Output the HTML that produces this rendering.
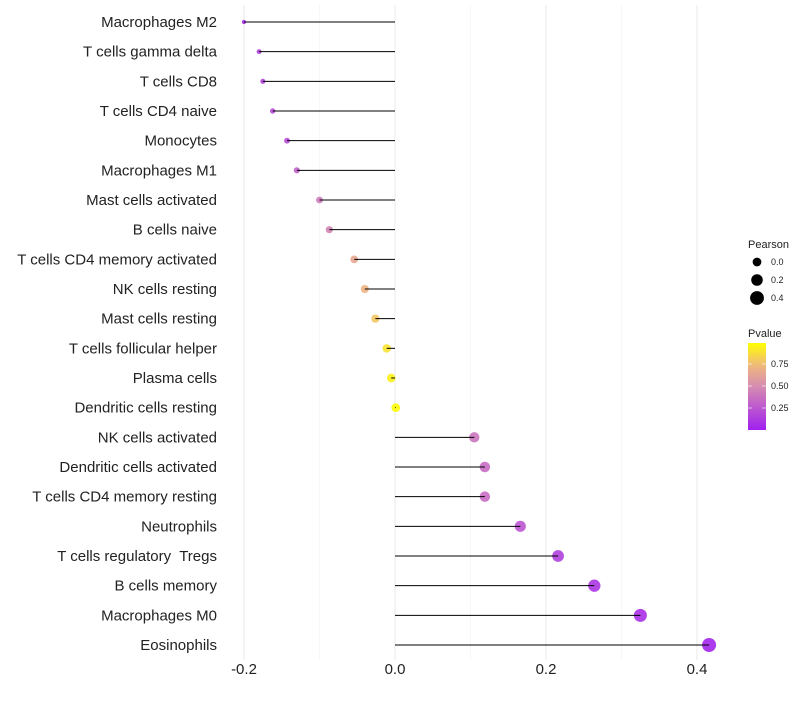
<!DOCTYPE html>
<html><head><meta charset="utf-8"><style>
body{margin:0;background:#fff;font-family:"Liberation Sans",sans-serif}
text{white-space:pre}
</style></head><body>
<svg id="chart" width="800" height="700" xmlns="http://www.w3.org/2000/svg"></svg>
<script>
const categories=["Macrophages M2","T cells gamma delta","T cells CD8","T cells CD4 naive","Monocytes","Macrophages M1","Mast cells activated","B cells naive","T cells CD4 memory activated","NK cells resting","Mast cells resting","T cells follicular helper","Plasma cells","Dendritic cells resting","NK cells activated","Dendritic cells activated","T cells CD4 memory resting","Neutrophils","T cells regulatory  Tregs","B cells memory","Macrophages M0","Eosinophils"];
const pearson=[-0.2,-0.18,-0.175,-0.162,-0.143,-0.13,-0.1,-0.087,-0.054,-0.04,-0.026,-0.011,-0.005,0.001,0.105,0.119,0.119,0.166,0.216,0.264,0.325,0.416];
const pvalues=[0.05,0.15,0.15,0.2,0.2,0.3,0.42,0.47,0.65,0.72,0.8,0.9,0.95,0.99,0.4,0.35,0.35,0.25,0.15,0.1,0.07,0.03];
const xTicks=[-0.2,0,0.2,0.4];
const xTickLabels=["-0.2","0.0","0.2","0.4"];
const xMinor=[-0.1,0.1,0.3];
const sizeLegend=[0.0,0.2,0.4];
const colorLegend=[0.25,0.5,0.75];

const svg=document.getElementById('chart');
const NS='http://www.w3.org/2000/svg';
function el(t,a){const e=document.createElementNS(NS,t);for(const k in a)e.setAttribute(k,a[k]);svg.appendChild(e);return e;}
const x=v=>395+v*755;
const y=i=>22+i*29.667;
const r=v=>Math.sqrt(Math.max(2.3,19+72*v));
function lerp(a,b,t){return a.map((c,i)=>Math.round(c+(b[i]-c)*t));}
const stops=[[0,[160,32,240]],[0.5,[214,140,176]],[0.75,[240,185,125]],[1,[255,255,0]]];
function col(p){for(let i=0;i<stops.length-1;i++){if(p<=stops[i+1][0]){const t=(p-stops[i][0])/(stops[i+1][0]-stops[i][0]);return 'rgb('+lerp(stops[i][1],stops[i+1][1],t).join(',')+')';}}return 'rgb(255,255,0)';}

xMinor.forEach(v=>{const g=el('line',{x1:x(v),x2:x(v),y1:5,y2:660,stroke:'#f2f2f2','stroke-width':0.6});

});
xTicks.forEach((v,i)=>{const g=el('line',{x1:x(v),x2:x(v),y1:5,y2:660,stroke:'#ebebeb','stroke-width':1.1});


const t=el('text',{x:x(v),y:674,'text-anchor':'middle','font-size':15,fill:'#222'});t.textContent=xTickLabels[i];

});

categories.forEach((c,i)=>{
const t=el('text',{x:217,y:y(i)+5,'text-anchor':'end','font-size':15,fill:'#222'});t.textContent=c;


const p=el('circle',{cx:x(pearson[i]),cy:y(i),r:r(pearson[i]),fill:col(pvalues[i]),'fill-opacity':0.9});


const l=el('line',{x1:x(0),x2:x(pearson[i]),y1:y(i),y2:y(i),stroke:'#000','stroke-width':1});


});

let t=el('text',{x:748,y:248,'font-size':11,fill:'#222'});t.textContent='Pearson';


sizeLegend.forEach((v,i)=>{const cy=262+i*18;
const c=el('circle',{cx:757,cy:cy,r:r(v),fill:'#000'});


const tt=el('text',{x:771,y:cy+3,'font-size':9,fill:'#222'});tt.textContent=v.toFixed(1);

});

t=el('text',{x:748,y:337,'font-size':11,fill:'#222'});t.textContent='Pvalue';


const defs=el('defs',{});
const lg=document.createElementNS(NS,'linearGradient');lg.setAttribute('id','pg');lg.setAttribute('x1','0');lg.setAttribute('y1','1');lg.setAttribute('x2','0');lg.setAttribute('y2','0');defs.appendChild(lg);
for(let k=0;k<=10;k++){const s=document.createElementNS(NS,'stop');s.setAttribute('offset',k/10);s.setAttribute('stop-color',col(k/10));lg.appendChild(s);}
const bar=el('rect',{x:748,y:343,width:18,height:87,fill:'url(#pg)'});


const py=p=>430-p*88;
colorLegend.forEach(v=>{
el('line',{x1:748,x2:752,y1:py(v),y2:py(v),stroke:'#fff','stroke-opacity':0.6});
el('line',{x1:762,x2:766,y1:py(v),y2:py(v),stroke:'#fff','stroke-opacity':0.6});
const tt=el('text',{x:771,y:py(v)+3,'font-size':9,fill:'#222'});tt.textContent=v.toFixed(2);

});
</script>
</body></html>
